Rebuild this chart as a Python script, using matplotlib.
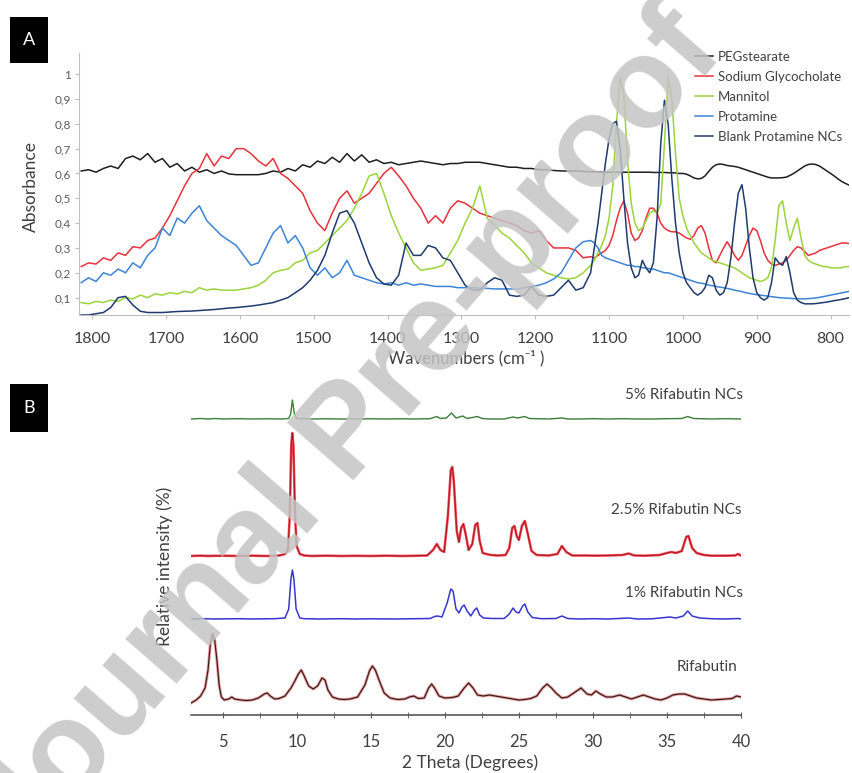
import numpy as np
import matplotlib
matplotlib.use("Agg")
import matplotlib.pyplot as plt
from matplotlib.patches import Rectangle

plt.rcParams['font.family'] = ['Lato', 'DejaVu Sans']

W, H = 853, 773

# ---------------- FTIR (panel A) ----------------
# sampled every 10 cm-1 down to 1125, then every 5 cm-1 through the fingerprint region
wavenumbers = np.concatenate([np.arange(1815, 1120, -10), np.arange(1120, 770, -5)])

peg_stearate = [
    .61, .615, .605, .62, .63, .62, .66, .67, .655, .68,
    .645, .66, .625, .64, .61, .625, .605, .615, .60, .61,
    .598, .595, .595, .595, .595, .60, .61, .605, .62, .61,
    .635, .625, .65, .64, .665, .645, .68, .65, .675, .645,
    .655, .64, .645, .635, .64, .645, .65, .645, .64, .635,
    .64, .64, .645, .645, .645, .64, .635, .63, .625, .625,
    .62, .62, .615, .615, .612, .61, .61, .61, .608, .607,
    .607, .606, .605, .605, .605, .605, .605, .605, .605, .605,
    .605, .605, .605, .605, .605, .605, .604, .604, .604, .604,
    .603, .603, .602, .60, .60, .597, .59, .582, .578, .58,
    .59, .608, .625, .635, .638, .636, .632, .63, .628, .625,
    .62, .615, .61, .605, .60, .595, .59, .585, .582, .582,
    .582, .583, .585, .592, .60, .61, .62, .63, .636, .638,
    .636, .63, .62, .61, .60, .59, .578, .568, .56, .553,
]

sodium_glycocholate = [
    .225, .24, .235, .26, .25, .28, .27, .305, .30, .33,
    .34, .38, .43, .49, .55, .60, .62, .68, .63, .67,
    .66, .70, .70, .68, .65, .63, .66, .60, .58, .55,
    .52, .45, .40, .37, .44, .50, .53, .48, .50, .52,
    .56, .60, .625, .59, .55, .50, .46, .40, .43, .40,
    .46, .49, .48, .46, .44, .43, .42, .41, .40, .39,
    .37, .36, .37, .33, .30, .30, .30, .29, .26, .265,
    .26, .27, .28, .29, .31, .35, .41, .46, .49, .44,
    .36, .33, .34, .37, .42, .46, .46, .44, .40, .38,
    .37, .365, .365, .36, .35, .34, .335, .35, .38, .39,
    .36, .30, .25, .24, .27, .30, .325, .30, .27, .25,
    .27, .31, .35, .38, .37, .33, .28, .25, .235, .23,
    .235, .24, .25, .27, .29, .305, .30, .285, .27, .275,
    .28, .29, .295, .30, .305, .31, .315, .32, .32, .318,
]

mannitol = [
    .08, .075, .085, .08, .09, .085, .10, .095, .11, .10,
    .115, .11, .12, .115, .125, .12, .14, .13, .135, .13,
    .13, .13, .135, .14, .15, .17, .20, .21, .215, .24,
    .25, .28, .29, .32, .35, .38, .41, .46, .52, .59,
    .60, .52, .43, .36, .30, .24, .21, .215, .22, .23,
    .28, .33, .40, .46, .55, .42, .39, .36, .34, .31,
    .28, .24, .22, .20, .19, .18, .175, .18, .20, .23,
    .25, .28, .31, .35, .42, .55, .80, .99, .92, .65,
    .48, .40, .37, .38, .41, .44, .45, .44, .48, .72,
    .99, .90, .68, .50, .43, .38, .35, .32, .30, .28,
    .27, .26, .25, .245, .24, .235, .23, .225, .22, .21,
    .20, .19, .18, .175, .17, .165, .17, .18, .22, .33,
    .47, .49, .40, .33, .38, .42, .34, .27, .25, .24,
    .235, .23, .225, .225, .22, .22, .22, .22, .225, .225,
]

protamine = [
    .16, .18, .165, .20, .19, .215, .20, .24, .22, .27,
    .30, .38, .35, .42, .40, .44, .47, .41, .38, .35,
    .33, .31, .27, .23, .24, .30, .36, .39, .32, .35,
    .30, .22, .19, .22, .18, .20, .25, .19, .18, .17,
    .16, .155, .16, .15, .16, .15, .155, .15, .145, .145,
    .145, .14, .14, .14, .138, .137, .135, .135, .135, .135,
    .14, .145, .15, .16, .175, .20, .25, .30, .325, .33,
    .32, .30, .27, .26, .255, .25, .245, .24, .235, .23,
    .23, .225, .225, .22, .22, .215, .215, .21, .205, .20,
    .20, .195, .19, .185, .18, .175, .17, .165, .16, .158,
    .155, .15, .148, .145, .142, .14, .137, .134, .13, .127,
    .124, .12, .117, .114, .112, .11, .108, .106, .104, .102,
    .10, .099, .098, .097, .096, .095, .095, .095, .096, .097,
    .099, .101, .104, .107, .11, .113, .116, .119, .122, .125,
]

blank_protamine_ncs = [
    .03, .03, .035, .04, .06, .10, .105, .07, .045, .04,
    .04, .04, .042, .044, .045, .046, .048, .05, .052, .055,
    .058, .06, .063, .066, .07, .075, .08, .09, .10, .12,
    .14, .17, .21, .27, .36, .44, .45, .40, .32, .24,
    .18, .155, .15, .19, .32, .27, .27, .31, .30, .26,
    .25, .20, .15, .13, .13, .16, .18, .17, .11, .105,
    .11, .145, .11, .105, .11, .14, .17, .13, .14, .20,
    .30, .40, .52, .64, .74, .80, .81, .70, .50, .32,
    .22, .18, .19, .25, .22, .20, .24, .42, .72, .895,
    .80, .58, .40, .28, .20, .16, .14, .12, .11, .12,
    .14, .19, .18, .13, .11, .12, .16, .26, .40, .52,
    .555, .46, .30, .18, .12, .10, .09, .10, .16, .26,
    .24, .23, .265, .20, .12, .09, .08, .075, .075, .075,
    .076, .078, .08, .082, .085, .088, .09, .093, .096, .10,
]

ftir_names = ['PEGstearate', 'Sodium Glycocholate', 'Mannitol', 'Protamine', 'Blank Protamine NCs']
ftir_colors = ['#1e1e1e', '#e8313b', '#9ad43a', '#3d84d6', '#1f3a6e']
ftir_series = [peg_stearate, sodium_glycocholate, mannitol, protamine, blank_protamine_ncs]

abs_ticks = [0.1, 0.2, 0.3, 0.4, 0.5, 0.6, 0.7, 0.8, 0.9, 1.0]
abs_labels = ['0,1', '0,2', '0,3', '0,4', '0,5', '0,6', '0,7', '0,8', '0,9', '1']
wn_ticks = [1800, 1700, 1600, 1500, 1400, 1300, 1200, 1100, 1000, 900, 800]

# ---------------- XRD (panel B) ----------------
# (2 theta, intensity above each pattern's own baseline)
xrd_5pct = [
    (2.85, 0), (3.5, 0.5), (4, 0), (4.5, 0.5), (5, 0), (6, 0.3), (7, 0), (8, 0.2), (9, 0),
    (9.45, 0.5), (9.58, 5), (9.7, 19), (9.83, 5), (10.0, 0.5), (11, 0), (12, 0.2), (13, 0),
    (14, 0), (15, 0.2), (16, 0), (17, 0.2), (18, 0), (19, 0.3), (19.45, 2.5), (19.7, 0.5),
    (20.1, 1), (20.45, 6), (20.75, 1), (21.2, 3), (21.5, 0.5), (22.2, 2.5), (22.5, 0.5),
    (23, 0), (24, 0), (24.6, 2), (24.9, 1), (25.4, 2.5), (25.7, 0.5), (27, 0), (27.9, 1),
    (28.3, 0), (29, 0), (30, 0.3), (31, 0), (32, 0.3), (33, 0), (34, 0), (35, 0.3), (36, 0.5),
    (36.4, 2.5), (36.8, 0.5), (38, 0), (39, 0.3), (40, 0),
]

xrd_2p5pct = [
    (2.85, 0), (3.5, 0.3), (4, 0), (5, 0.3), (6, 0), (7, 0.3), (8, 0), (8.8, 0.5), (9.2, 2),
    (9.4, 6), (9.52, 40), (9.62, 110), (9.69, 123), (9.77, 110), (9.87, 45), (9.98, 10),
    (10.2, 2), (10.5, 0.5), (11, 0), (12, 0.3), (13, 0), (14, 0.2), (15, 0), (16, 0.3), (17, 0),
    (18, 0.2), (18.8, 0.5), (19.2, 6), (19.45, 12), (19.7, 6), (19.95, 4), (20.2, 40),
    (20.4, 86), (20.5, 89), (20.6, 75), (20.8, 25), (20.95, 14), (21.1, 28), (21.25, 32),
    (21.4, 22), (21.6, 6), (21.85, 12), (22.05, 31), (22.2, 33), (22.35, 15), (22.55, 3),
    (22.8, 2), (23.1, 1), (23.6, 0.5), (24.1, 1), (24.35, 8), (24.55, 28), (24.7, 30),
    (24.85, 20), (25.0, 16), (25.2, 30), (25.4, 35), (25.6, 22), (25.85, 5), (26.2, 1),
    (27.0, 0.5), (27.6, 2), (27.9, 10), (28.2, 4), (28.6, 0.5), (29.5, 0.5), (30.2, 0.3),
    (31, 0.5), (32.0, 1), (32.4, 2.5), (32.8, 0.5), (33.5, 0.3), (34.5, 1), (35.0, 3),
    (35.3, 4), (35.6, 3), (36.0, 5), (36.3, 19), (36.45, 20), (36.7, 8), (37.0, 3), (37.5, 1),
    (38.0, 0.3), (39.0, 0.3), (39.6, 0.5), (39.8, 2), (40.0, 0.5),
]

xrd_1pct = [
    (2.85, 0), (3.5, 0.3), (4.5, 0), (6, 0.3), (7, 0), (8.5, 0.3), (9.2, 1), (9.45, 10),
    (9.6, 40), (9.7, 49), (9.8, 40), (9.95, 10), (10.2, 1), (10.5, 0.3), (11.5, 0), (13, 0.3),
    (14, 0), (15, 0.2), (16.5, 0), (18, 0.3), (19, 0.5), (19.3, 2.5), (19.5, 3), (19.8, 2),
    (20.15, 16), (20.4, 30), (20.55, 28), (20.75, 10), (20.95, 6), (21.15, 12), (21.3, 14),
    (21.5, 8), (21.75, 3), (22.0, 9), (22.15, 11), (22.35, 4), (22.6, 1), (23.2, 0.5),
    (24.0, 0.5), (24.35, 5), (24.6, 11), (24.8, 7), (25.0, 6), (25.25, 13), (25.4, 15),
    (25.6, 7), (25.9, 1.5), (26.5, 0.3), (27.5, 0.5), (27.9, 3), (28.3, 0.5), (29, 0),
    (30, 0.3), (31, 0), (32.4, 1), (33, 0), (34, 0.2), (35.2, 2), (35.6, 1), (36.1, 3),
    (36.4, 8), (36.7, 3), (37.2, 1), (38, 0.3), (39, 0), (39.8, 0.5), (40.0, 0),
]

xrd_rifabutin = [
    (2.85, -3), (3.2, 0), (3.5, 4), (3.8, 12), (4.0, 30), (4.15, 55), (4.3, 66), (4.45, 60),
    (4.6, 40), (4.75, 15), (4.9, 3), (5.1, 0), (5.4, 1), (5.6, 3), (5.8, 1), (6.2, 0),
    (6.6, -0.5), (7.0, 0), (7.4, 2), (7.8, 6), (8.0, 7), (8.2, 4), (8.5, 1), (8.8, 1.5),
    (9.2, 4), (9.6, 12), (9.9, 20), (10.1, 26), (10.3, 30), (10.5, 24), (10.8, 14), (11.1, 11),
    (11.4, 14), (11.7, 22), (11.9, 20), (12.1, 10), (12.4, 3), (12.8, 1), (13.2, 0.5),
    (13.6, 1), (14.1, 3), (14.6, 15), (14.9, 29), (15.1, 34), (15.3, 30), (15.6, 18),
    (15.9, 7), (16.3, 2), (16.8, 0.5), (17.3, 1), (17.6, 3), (17.9, 4), (18.2, 1.5),
    (18.6, 2), (18.9, 12), (19.1, 16), (19.3, 12), (19.6, 4), (20.0, 2), (20.5, 2.5),
    (20.9, 4), (21.3, 12), (21.6, 17), (21.9, 12), (22.2, 5), (22.6, 4), (23.0, 5), (23.4, 4),
    (23.8, 3), (24.2, 2), (24.6, 1), (25.0, 0), (25.4, 0.5), (25.8, 1.5), (26.2, 4),
    (26.6, 12), (26.9, 16), (27.2, 12), (27.5, 7), (27.9, 2), (28.3, 3), (28.7, 7), (29.2, 12),
    (29.6, 6), (29.9, 5), (30.2, 9), (30.5, 6), (30.9, 3), (31.3, 3), (31.8, 5), (32.2, 3),
    (32.6, 1), (33.0, 3), (33.4, 5), (33.8, 3), (34.2, 1), (34.6, 0), (35.0, 2), (35.4, 5),
    (35.8, 6), (36.2, 6), (36.6, 4), (37.0, 2), (37.5, 1), (38.0, 0), (38.5, 0.5), (39.0, 1),
    (39.4, 1.5), (39.7, 4), (40.0, 3),
]

xrd_names = ['5% Rifabutin NCs', '2.5% Rifabutin NCs', '1% Rifabutin NCs', 'Rifabutin']
xrd_offsets = [296, 159, 96, 15]
xrd_label_pos = [(36.15, 320), (35.6, 205), (36.15, 122), (37.7, 48)]
two_theta_ticks = [5, 10, 15, 20, 25, 30, 35, 40]

TEXT = '#404040'


def px_rect(left, top, right, bottom):
    return [left / W, 1 - bottom / H, (right - left) / W, (bottom - top) / H]


def panel_tag(letter, left, top, right, bottom):
    fig.add_artist(Rectangle((left / W, 1 - bottom / H), (right - left) / W, (bottom - top) / H,
                             transform=fig.transFigure, facecolor='black', edgecolor='none'))
    fig.text((left + right) / 2 / W, 1 - (top + bottom) / 2 / H, letter, color='white',
             fontsize=13, ha='center', va='center')


fig = plt.figure(figsize=(W / 100, H / 100), dpi=100)

# panel A
ax1 = fig.add_axes(px_rect(79, 53, 849, 315))
for name, vals, col in zip(ftir_names, ftir_series, ftir_colors):
    ax1.plot(wavenumbers, vals, color=col, lw=1.1, label=name)
ax1.set_xlim(1818, 775)
ax1.set_ylim(0.03, 1.085)
ax1.set_yticks(abs_ticks)
ax1.set_yticklabels(abs_labels)
ax1.set_xticks(wn_ticks)
for side in ['top', 'right']:
    ax1.spines[side].set_visible(False)
for side in ['left', 'bottom']:
    ax1.spines[side].set_color('#bfbfbf')
ax1.tick_params(axis='y', labelsize=8.5, labelcolor='#595959', color='#bfbfbf', length=3, pad=3)
ax1.tick_params(axis='x', labelsize=11.5, labelcolor=TEXT, color='#bfbfbf', length=3, pad=9)
ax1.legend(loc='upper left', bbox_to_anchor=(695 / W, 1 - 51 / H), bbox_transform=fig.transFigure,
           frameon=False, fontsize=9.5, labelcolor=TEXT, handlelength=1.35, handletextpad=0.4,
           labelspacing=0.6, borderpad=0, borderaxespad=0)
fig.text(466 / W, 1 - 358 / H, 'Wavenumbers (cm⁻¹ )', fontsize=12, color=TEXT, ha='center', va='center')
fig.text(31 / W, 1 - 187 / H, 'Absorbance', fontsize=12.5, color=TEXT, rotation=90, ha='center', va='center')
panel_tag('A', 10, 17, 48, 63)

# panel B
ax2 = fig.add_axes(px_rect(191, 385, 741, 715))
patterns = [xrd_5pct, xrd_2p5pct, xrd_1pct, xrd_rifabutin]
for i, (pattern, off) in enumerate(zip(patterns, xrd_offsets)):
    tt, inten = np.array(pattern).T
    y = inten + off
    if i == 0:
        ax2.plot(tt, y, color='#3a7d3a', lw=1.0)
    elif i == 1:
        ax2.plot(tt, y, color='#f0404c', lw=1.8)
        ax2.plot(tt, y, color='#a3161f', lw=0.6)
    elif i == 2:
        ax2.plot(tt, y, color='#3535d2', lw=1.1)
    else:
        ax2.plot(tt, y, color='#e98080', lw=2.2, alpha=0.7)
        ax2.plot(tt, y, color='#3a1c1c', lw=0.9)
for name, (lx, ly) in zip(xrd_names, xrd_label_pos):
    ax2.text(lx, ly, name, fontsize=11, color=TEXT, ha='center', va='center', clip_on=False)
ax2.set_xlim(2.85, 40)
ax2.set_ylim(0, 330)
ax2.set_xticks(two_theta_ticks)
ax2.set_xticks([2.5 * k for k in range(2, 17)], minor=True)
ax2.set_yticks([])
for side in ['top', 'right', 'left']:
    ax2.spines[side].set_visible(False)
ax2.spines['bottom'].set_color('#595959')
ax2.spines['bottom'].set_linewidth(1.2)
ax2.tick_params(axis='x', which='both', direction='inout', length=5, color='#595959')
ax2.tick_params(axis='x', labelsize=12, labelcolor=TEXT, pad=11)
fig.text(470 / W, 1 - 763 / H, '2 Theta (Degrees)', fontsize=12.5, color=TEXT, ha='center', va='center')
fig.text(165 / W, 1 - 566 / H, 'Relative intensity (%)', fontsize=12.5, color=TEXT, rotation=90,
         ha='center', va='center')
panel_tag('B', 10, 384, 48, 432)

# journal watermark over both panels
fig.text(349 / W, 1 - 435 / H, 'Journal Pre-proof', fontsize=92, family='Liberation Sans',
         weight='bold', color='#c4c4c4', alpha=0.85, rotation=49, ha='center', va='center', zorder=10)

fig.savefig('out.png', dpi=100)
